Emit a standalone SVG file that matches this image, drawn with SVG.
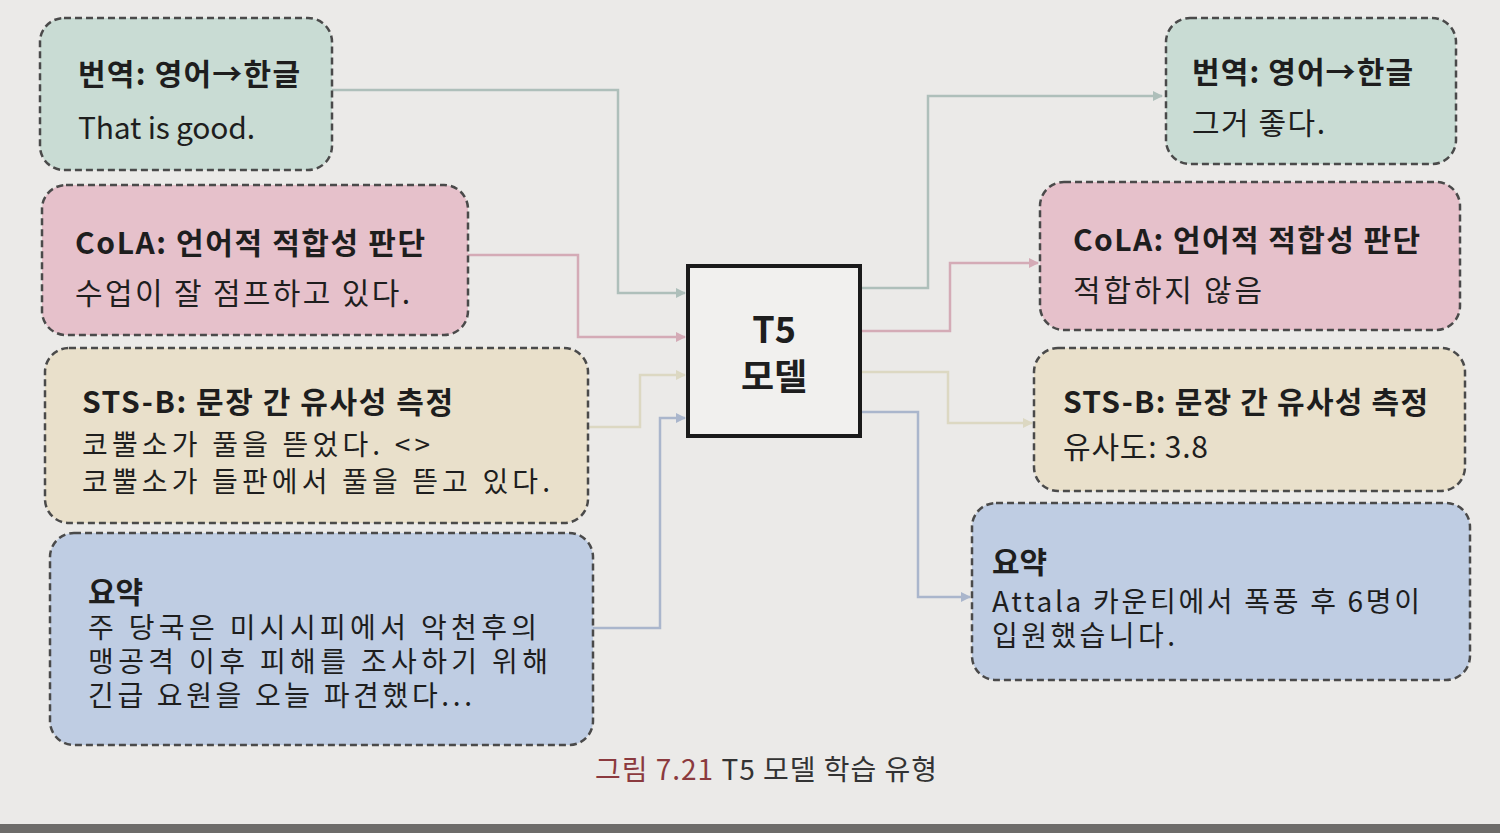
<svg xmlns="http://www.w3.org/2000/svg" width="1500" height="833" viewBox="0 0 1500 833">
<defs>
<style>
.box{stroke:#4a4a4a;stroke-width:2.5;stroke-dasharray:7 4}
.g{fill:#c9dcd4}.p{fill:#e6c1cb}.y{fill:#e9e0cb}.b{fill:#bfcde3}
text{font-family:"Noto Sans CJK KR","Noto Sans",sans-serif;fill:#1e1e1e;font-size:30px}
.t{font-weight:bold}
.s{font-size:28px}
.c{fill:none;stroke-width:2.5}
.cg{stroke:#aebfba}.cp{stroke:#d4abb6}.cy{stroke:#dcd8c2}.cb{stroke:#aab6cc}
</style>
<marker id="ag" viewBox="0 0 10 10" refX="9" refY="5" markerWidth="4" markerHeight="4" orient="auto"><path d="M0,0L10,5L0,10z" fill="#aebfba"/></marker>
<marker id="ap" viewBox="0 0 10 10" refX="9" refY="5" markerWidth="4" markerHeight="4" orient="auto"><path d="M0,0L10,5L0,10z" fill="#d4abb6"/></marker>
<marker id="ay" viewBox="0 0 10 10" refX="9" refY="5" markerWidth="4" markerHeight="4" orient="auto"><path d="M0,0L10,5L0,10z" fill="#dcd8c2"/></marker>
<marker id="ab" viewBox="0 0 10 10" refX="9" refY="5" markerWidth="4" markerHeight="4" orient="auto"><path d="M0,0L10,5L0,10z" fill="#aab6cc"/></marker>
</defs>
<rect width="1500" height="833" fill="#ebeae8"/>
<rect y="824" width="1500" height="9" fill="#6d6c6a"/>

<g id="connectors">
<path class="c cg" d="M332,90H618V293H685" marker-end="url(#ag)"/>
<path class="c cp" d="M468,255H578V337H685" marker-end="url(#ap)"/>
<path class="c cy" d="M588,427H640V375H685" marker-end="url(#ay)"/>
<path class="c cb" d="M593,628H660V418H685" marker-end="url(#ab)"/>
<path class="c cg" d="M862,288H928V96H1162" marker-end="url(#ag)"/>
<path class="c cp" d="M862,331H950V263H1038" marker-end="url(#ap)"/>
<path class="c cy" d="M862,372H948V423H1032" marker-end="url(#ay)"/>
<path class="c cb" d="M862,412H918V597H970" marker-end="url(#ab)"/>
</g>

<g id="in-translate">
<rect class="box g" x="40" y="18" width="292" height="152" rx="24"/>
<text class="t" x="78" y="85" textLength="222" lengthAdjust="spacing">번역: 영어→한글</text>
<text x="78" y="139" textLength="177" lengthAdjust="spacing">That is good.</text>
</g>
<g id="in-cola">
<rect class="box p" x="42" y="185" width="426" height="150" rx="24"/>
<text class="t" x="75" y="254" textLength="350" lengthAdjust="spacing">CoLA: 언어적 적합성 판단</text>
<text x="75" y="304" textLength="335" lengthAdjust="spacing">수업이 잘 점프하고 있다.</text>
</g>
<g id="in-stsb">
<rect class="box y" x="45" y="348" width="543" height="175" rx="24"/>
<text class="t" x="82" y="413" textLength="371" lengthAdjust="spacing">STS-B: 문장 간 유사성 측정</text>
<text class="s" x="82" y="455" textLength="348" lengthAdjust="spacing">코뿔소가 풀을 뜯었다. &lt;&gt;</text>
<text class="s" x="82" y="492" textLength="468" lengthAdjust="spacing">코뿔소가 들판에서 풀을 뜯고 있다.</text>
</g>
<g id="in-summary">
<rect class="box b" x="50" y="533" width="543" height="212" rx="24"/>
<text class="t" x="88" y="603">요약</text>
<text class="s" x="88" y="638" textLength="449" lengthAdjust="spacing">주 당국은 미시시피에서 악천후의</text>
<text class="s" x="88" y="672" textLength="460" lengthAdjust="spacing">맹공격 이후 피해를 조사하기 위해</text>
<text class="s" x="88" y="706" textLength="384" lengthAdjust="spacing">긴급 요원을 오늘 파견했다...</text>
</g>

<g id="t5">
<rect x="688" y="266" width="172" height="170" fill="#f1f0ee" stroke="#1a1a1a" stroke-width="4"/>
<text class="t" x="774" y="343" text-anchor="middle" style="font-size:36px">T5</text>
<text class="t" x="774" y="390" text-anchor="middle" style="font-size:36px">모델</text>
</g>

<g id="out-translate">
<rect class="box g" x="1166" y="18" width="290" height="146" rx="24"/>
<text class="t" x="1192" y="83" textLength="221" lengthAdjust="spacing">번역: 영어→한글</text>
<text x="1192" y="134" textLength="133" lengthAdjust="spacing">그거 좋다.</text>
</g>
<g id="out-cola">
<rect class="box p" x="1040" y="182" width="420" height="148" rx="24"/>
<text class="t" x="1073" y="251" textLength="347" lengthAdjust="spacing">CoLA: 언어적 적합성 판단</text>
<text x="1073" y="301" textLength="189" lengthAdjust="spacing">적합하지 않음</text>
</g>
<g id="out-stsb">
<rect class="box y" x="1034" y="348" width="431" height="143" rx="24"/>
<text class="t" x="1063" y="413" textLength="365" lengthAdjust="spacing">STS-B: 문장 간 유사성 측정</text>
<text x="1063" y="458" textLength="145" lengthAdjust="spacing">유사도: 3.8</text>
</g>
<g id="out-summary">
<rect class="box b" x="972" y="503" width="498" height="177" rx="24"/>
<text class="t" x="992" y="573">요약</text>
<text class="s" x="992" y="612" textLength="428" lengthAdjust="spacing">Attala 카운티에서 폭풍 후 6명이</text>
<text class="s" x="992" y="646" textLength="183" lengthAdjust="spacing">입원했습니다.</text>
</g>

<text x="595" y="780" textLength="342" lengthAdjust="spacing" style="font-size:28px;fill:#333"><tspan style="fill:#8b3a3e">그림 7.21</tspan> T5 모델 학습 유형</text>
</svg>
